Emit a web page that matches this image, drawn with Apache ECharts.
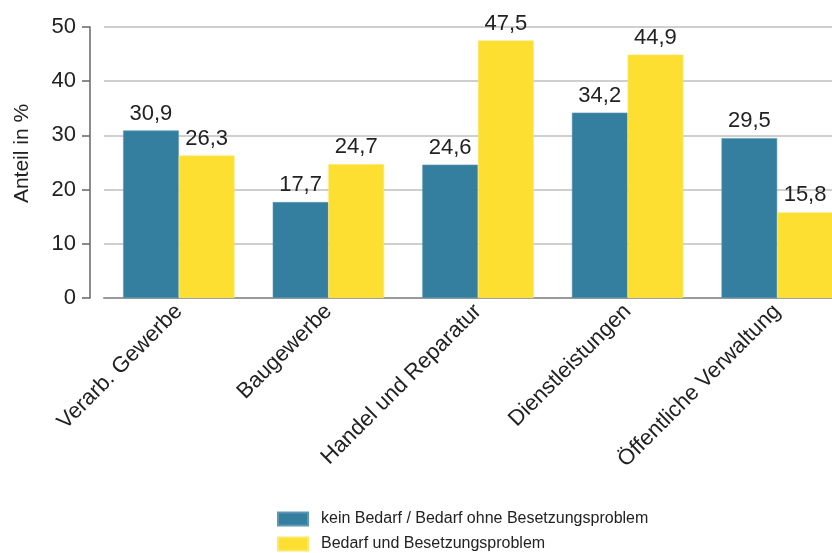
<!DOCTYPE html>
<html>
<head>
<meta charset="utf-8">
<script src="https://cdn.jsdelivr.net/npm/echarts@6/dist/echarts.min.js"></script>
<style>
  html, body { margin: 0; padding: 0; background: #fff; }
  #chart { width: 832px; height: 553px; }
</style>
</head>
<body>
<div id="chart"></div>
<script>
// Branchen (x axis)
const categories = ['Verarb. Gewerbe', 'Baugewerbe', 'Handel und Reparatur', 'Dienstleistungen', 'Öffentliche Verwaltung'];
// Anteile in Prozent
const keinBedarf = [30.9, 17.7, 24.6, 34.2, 29.5];
const mitProblem = [26.3, 24.7, 47.5, 44.9, 15.8];
const seriesNames = ['kein Bedarf / Bedarf ohne Besetzungsproblem', 'Bedarf und Besetzungsproblem'];
const yTicks = [0, 10, 20, 30, 40, 50];

const FONT = '"Liberation Sans", Arial, Helvetica, sans-serif';
const TEXT = '#222';

const chart = echarts.init(document.getElementById('chart'), null, { renderer: 'canvas' });

const fmt = p => String(p.value).replace('.', ',');

const labelStyle = {
  show: true,
  position: 'top',
  distance: 6,
  color: TEXT,
  fontFamily: FONT,
  fontSize: 22,
  formatter: fmt
};

chart.setOption({
  animation: false,
  textStyle: { fontFamily: FONT },
  grid: {
    left: 104, top: 27, width: 748, height: 271,
    containLabel: false,
    outerBoundsMode: 'none'
  },
  legend: {
    orient: 'vertical',
    left: 272,
    top: 511,
    height: 60,
    padding: [0, 0, 0, 5],
    itemWidth: 30,
    itemHeight: 13,
    itemGap: 9,
    icon: 'rect',
    textStyle: { color: TEXT, fontSize: 16, fontFamily: FONT, padding: [0, 0, 0, 8] },
    data: seriesNames
  },
  xAxis: {
    type: 'category',
    data: categories,
    axisLine: { show: true, lineStyle: { color: '#9a9a9a', width: 2 } },
    axisTick: { show: false },
    axisLabel: {
      rotate: 45,
      interval: 0,
      margin: 10,
      color: TEXT,
      fontSize: 22,
      fontFamily: FONT
    }
  },
  yAxis: {
    type: 'value',
    min: yTicks[0],
    max: yTicks[yTicks.length - 1],
    interval: 10,
    offset: 14,
    name: 'Anteil in %',
    nameLocation: 'middle',
    nameGap: 57,
    nameRotate: 90,
    nameTextStyle: { color: TEXT, fontSize: 21, fontFamily: FONT, padding: [0, 0, 0, 18] },
    axisLine: { show: true, lineStyle: { color: '#666', width: 1.5 } },
    axisTick: { show: true, length: 8, lineStyle: { color: '#666', width: 1.5 } },
    axisLabel: { color: TEXT, fontSize: 22, fontFamily: FONT, margin: 14 },
    splitLine: { show: true, lineStyle: { color: '#cfcfcf', width: 2 } }
  },
  series: [
    {
      name: seriesNames[0],
      type: 'bar',
      data: keinBedarf,
      barWidth: 55.7,
      barGap: '0%',
      itemStyle: { color: '#347f9f', borderColor: '#5c98b3', borderWidth: 0.6 },
      label: labelStyle
    },
    {
      name: seriesNames[1],
      type: 'bar',
      data: mitProblem,
      barWidth: 55.7,
      barGap: '0%',
      itemStyle: { color: '#fddf31', borderColor: '#fde866', borderWidth: 0.6 },
      label: labelStyle
    }
  ]
});
</script>
</body>
</html>
